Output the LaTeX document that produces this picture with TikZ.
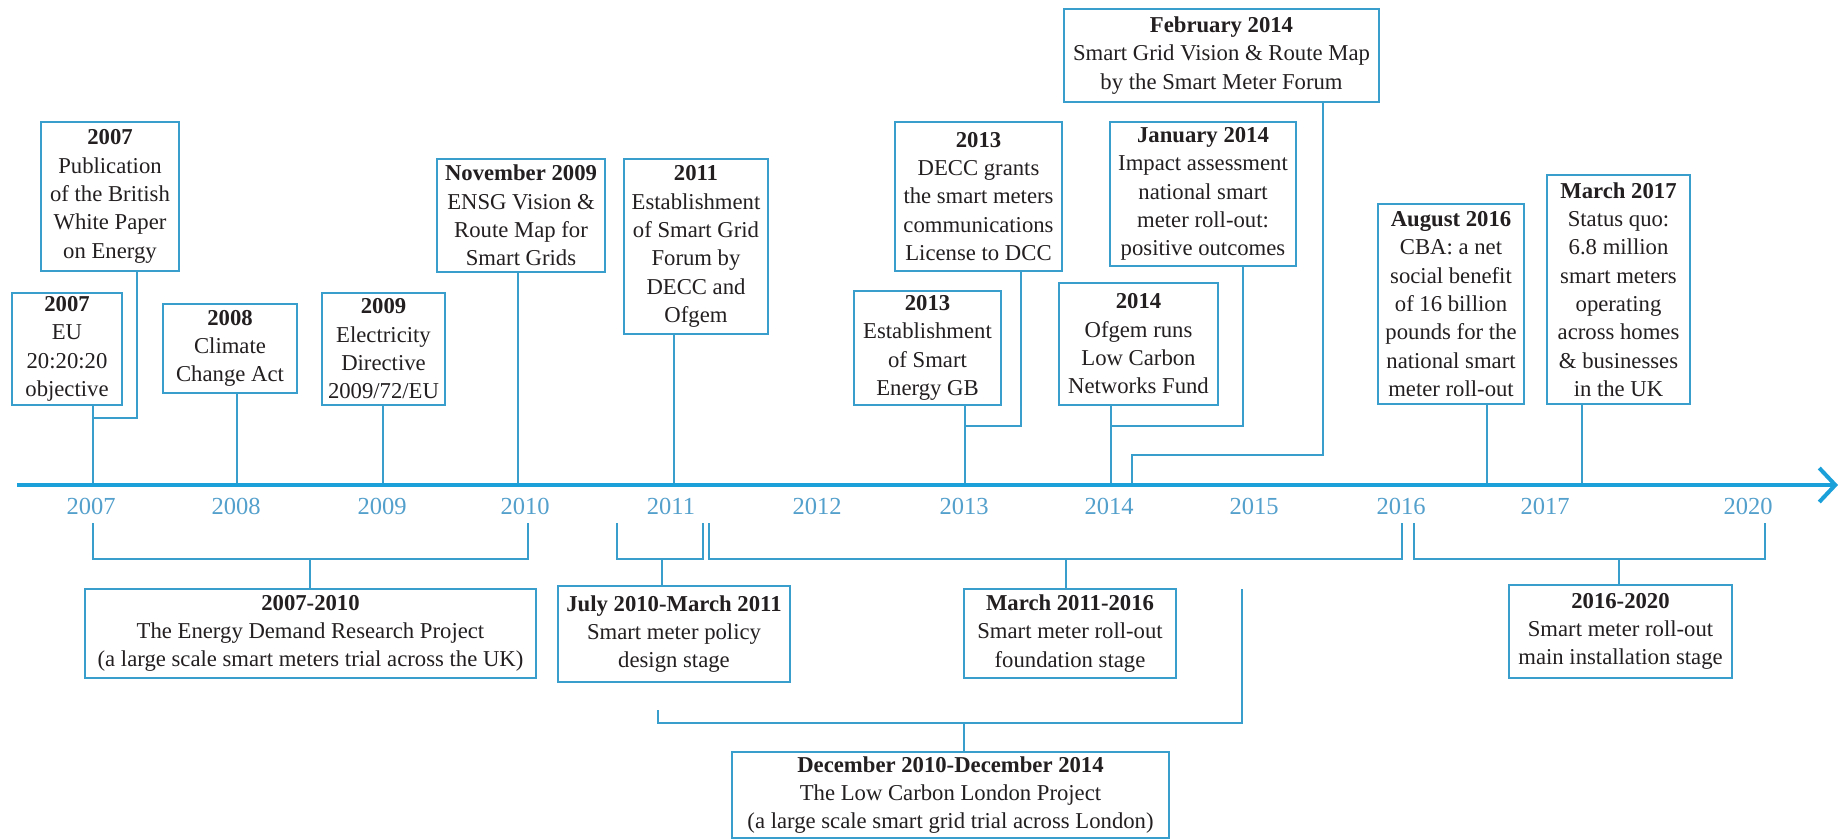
\documentclass[tikz,border=0pt]{standalone}
\usepackage{fontspec}
\setmainfont{Liberation Serif}
\usetikzlibrary{arrows.meta}
\definecolor{axisblue}{RGB}{27,160,218}
\definecolor{boxblue}{RGB}{58,158,204}
\definecolor{yearblue}{RGB}{84,160,204}
\definecolor{txt}{RGB}{35,31,32}
\tikzset{
  evbox/.style={draw=boxblue, line width=1pt, fill=white, align=center, inner sep=0pt,
    text=txt, font=\fontsize{11.35}{14.15}\selectfont},
  link/.style={draw=boxblue, line width=1pt},
  yearlbl/.style={text=yearblue, font=\fontsize{12.25}{14}\selectfont, inner sep=0pt},
  axisline/.style={draw=axisblue, line width=2pt, -{Straight Barb[length=8pt,width=17pt,line width=2pt]}}
}
\begin{document}
\begin{tikzpicture}[x=0.5pt,y=-0.5pt]
\useasboundingbox (0,0) rectangle (1841,840);
\fill[white] (0,0) rectangle (1841,840);

% axis tick coordinates
\coordinate (t07) at (93,485);
\coordinate (t08) at (237,485);
\coordinate (t09) at (383,485);
\coordinate (t10) at (518,485);
\coordinate (t11) at (674,485);
\coordinate (t13) at (965,485);
\coordinate (t14) at (1111,485);
\coordinate (t14f) at (1132,485);
\coordinate (t16a) at (1487,485);
\coordinate (t17a) at (1582,485);
\coordinate (axs) at (17,485);
\coordinate (axe) at (1838,485);

% top event boxes
\node[evbox, minimum width=55pt, minimum height=56pt] (eu) at (67,349) {\textbf{2007}\\EU\\20:20:20\\objective};
\node[evbox, minimum width=69pt, minimum height=74.5pt] (pub) at (110,196.5) {\textbf{2007}\\Publication\\of the British\\White Paper\\on Energy};
\node[evbox, minimum width=67pt, minimum height=44.5pt] (clim) at (230,348.5) {\textbf{2008}\\Climate\\Change Act};
\node[evbox, minimum width=61.5pt, minimum height=56pt] (elec) at (383.5,349) {\textbf{2009}\\Electricity\\Directive\\2009/72/EU};
\node[evbox, minimum width=84pt, minimum height=56.5pt] (nov) at (521,215.5) {\textbf{November 2009}\\ENSG Vision \&\\Route Map for\\Smart Grids};
\node[evbox, minimum width=72pt, minimum height=87.5pt] (est) at (696,246.5) {\textbf{2011}\\Establishment\\of Smart Grid\\Forum by\\DECC and\\Ofgem};
\node[evbox, minimum width=83.5pt, minimum height=74.5pt] (decc) at (978.5,196.5) {\textbf{2013}\\DECC grants\\the smart meters\\communications\\License to DCC};
\node[evbox, minimum width=73.5pt, minimum height=57pt] (segb) at (927.5,348) {\textbf{2013}\\Establishment\\of Smart\\Energy GB};
\node[evbox, minimum width=93pt, minimum height=72pt] (jan) at (1203,194) {\textbf{January 2014}\\Impact assessment\\national smart\\meter roll-out:\\positive outcomes};
\node[evbox, minimum width=79.5pt, minimum height=61pt] (ofg) at (1138.5,344) {\textbf{2014}\\Ofgem runs\\Low Carbon\\Networks Fund};
\node[evbox, minimum width=157.5pt, minimum height=46.5pt] (feb) at (1221.5,55.5) {\textbf{February 2014}\\Smart Grid Vision \& Route Map\\by the Smart Meter Forum};
\node[evbox, minimum width=73pt, minimum height=100pt] (aug) at (1451,304) {\textbf{August 2016}\\CBA: a net\\social benefit\\of 16 billion\\pounds for the\\national smart\\meter roll-out};
\node[evbox, minimum width=71.5pt, minimum height=114.5pt] (mar17) at (1618.5,289.5) {\textbf{March 2017}\\Status quo:\\6.8 million\\smart meters\\operating\\across homes\\\& businesses\\in the UK};

% bottom period boxes
\node[evbox, minimum width=225.5pt, minimum height=44.5pt] (edrp) at (310.5,633.5) {\textbf{2007-2010}\\The Energy Demand Research Project\\(a large scale smart meters trial across the UK)};
\node[evbox, minimum width=116pt, minimum height=48pt] (july) at (674,634) {\textbf{July 2010-March 2011}\\Smart meter policy\\design stage};
\node[evbox, minimum width=106pt, minimum height=44.5pt] (found) at (1070,633.5) {\textbf{March 2011-2016}\\Smart meter roll-out\\foundation stage};
\node[evbox, minimum width=218.5pt, minimum height=43pt] (lcl) at (950.5,795) {\textbf{December 2010-December 2014}\\The Low Carbon London Project\\(a large scale smart grid trial across London)};
\node[evbox, minimum width=111.5pt, minimum height=46.5pt] (main) at (1620.5,631.5) {\textbf{2016-2020}\\Smart meter roll-out\\main installation stage};

% top connectors
\coordinate (pubk) at (137,418);
\coordinate (decck) at (1021,426);
\coordinate (jank) at (1243,426);
\coordinate (febk) at (1323,455);
\draw[link] (eu.south -| t07) -- (t07);
\draw[link] (pub.south -| pubk) -- (pubk) -- (pubk -| t07);
\draw[link] (clim.south -| t08) -- (t08);
\draw[link] (elec.south -| t09) -- (t09);
\draw[link] (nov.south -| t10) -- (t10);
\draw[link] (est.south -| t11) -- (t11);
\draw[link] (segb.south -| t13) -- (t13);
\draw[link] (decc.south -| decck) -- (decck) -- (decck -| t13);
\draw[link] (ofg.south -| t14) -- (t14);
\draw[link] (jan.south -| jank) -- (jank) -- (jank -| t14);
\draw[link] (feb.south -| febk) -- (febk) -| (t14f);
\draw[link] (aug.south -| t16a) -- (t16a);
\draw[link] (mar17.south -| t17a) -- (t17a);

% axis
\draw[axisline] (axs) -- (axe);

% year labels
\node[yearlbl] (y07) at (91,506) {2007};
\node[yearlbl] (y08) at (236,506) {2008};
\node[yearlbl] (y09) at (382,506) {2009};
\node[yearlbl] (y10) at (525,506) {2010};
\node[yearlbl] (y11) at (671,506) {2011};
\node[yearlbl] (y12) at (817,506) {2012};
\node[yearlbl] (y13) at (964,506) {2013};
\node[yearlbl] (y14) at (1109,506) {2014};
\node[yearlbl] (y15) at (1254,506) {2015};
\node[yearlbl] (y16) at (1401,506) {2016};
\node[yearlbl] (y17) at (1545,506) {2017};
\node[yearlbl] (y20) at (1748,506) {2020};

% bottom brackets
\coordinate (ea) at (93,523);  \coordinate (eb) at (528,523);  \coordinate (em) at (310,559);
\coordinate (ja) at (617,523); \coordinate (jb) at (703,523);  \coordinate (jm) at (662,559);
\coordinate (ma) at (709,523); \coordinate (mb) at (1402,523); \coordinate (mm) at (1066,559);
\coordinate (sa) at (1414,523);\coordinate (sb) at (1765,523); \coordinate (sm) at (1619,559);
\coordinate (la) at (658,710); \coordinate (lb) at (1242,589); \coordinate (lm) at (964,723);

\draw[link] (ea) -- (ea |- em) -- (eb |- em) -- (eb);
\draw[link] (em) -- (edrp.north -| em);
\draw[link] (ja) -- (ja |- jm) -- (jb |- jm) -- (jb);
\draw[link] (jm) -- (july.north -| jm);
\draw[link] (ma) -- (ma |- mm) -- (mb |- mm) -- (mb);
\draw[link] (mm) -- (found.north -| mm);
\draw[link] (sa) -- (sa |- sm) -- (sb |- sm) -- (sb);
\draw[link] (sm) -- (main.north -| sm);
\draw[link] (la) -- (la |- lm) -- (lb |- lm) -- (lb);
\draw[link] (lm) -- (lcl.north -| lm);
\end{tikzpicture}
\end{document}
